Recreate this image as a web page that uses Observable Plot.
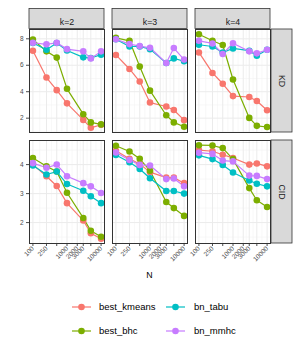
<!DOCTYPE html>
<html><head><meta charset="utf-8">
<script src="https://cdn.jsdelivr.net/npm/d3@7"></script>
<script src="https://cdn.jsdelivr.net/npm/@observablehq/plot@0.6"></script>
<style>
body{margin:0;background:#fff;font-family:"Liberation Sans",Arial,sans-serif;}
#chart{width:300px;height:350px;position:relative;overflow:hidden;background:#fff}
#chart svg{display:block}
</style></head><body><div id="chart"></div>
<script>
// ---- data ----
const N = [100, 250, 500, 1000, 3000, 5000, 10000];
const nTicks = [100, 250, 500, 1000, 2000, 3000, 5000, 10000];
const methods = ["best_kmeans", "best_bhc", "bn_tabu", "bn_mmhc"];
const colors = ["#F8766D", "#7CAE00", "#00BFC4", "#C77CFF"];
const ks = [2, 3, 4];
const metrics = ["KD", "CID"];
const kdTicks = [2, 4, 6, 8];
const cidTicks = [2, 3, 4];

// rows: best_kmeans, best_bhc, bn_tabu, bn_mmhc
const KD_k2 = [
  [7.1, 5.07, 4.12, 3.12, 1.87, 1.27, 1.5],
  [7.95, 7.05, 6.58, 4.22, 2.3, 1.68, 1.53],
  [7.68, 7.17, 7.68, 7.12, 6.6, 6.55, 6.8],
  [7.7, 7.58, 7.7, 7.22, 7.05, 6.52, 7.05]
];
const KD_k3 = [
  [6.78, 5.72, 4.77, 3.18, 2.88, 2.62, 1.85],
  [8.07, 7.85, 5.9, 4.08, 2.22, 1.68, 1.35],
  [7.97, 7.42, 7.42, 7.22, 6.17, 6.52, 6.3],
  [7.97, 7.6, 7.45, 7.32, 6.17, 7.3, 6.43]
];
const KD_k4 = [
  [6.97, 5.42, 4.6, 3.67, 3.6, 3.3, 2.6],
  [8.35, 7.85, 7.53, 4.92, 2.02, 1.42, 1.33],
  [7.55, 7.42, 6.97, 7.27, 7.1, 6.72, 7.17],
  [7.85, 7.65, 6.85, 7.67, 7.05, 6.9, 7.17]
];
const CID_k2 = [
  [4.0, 3.6, 3.26, 2.67, 2.07, 1.63, 1.44],
  [4.23, 3.94, 3.76, 3.03, 2.16, 1.72, 1.51],
  [3.97, 3.66, 3.76, 3.33, 3.1, 2.91, 2.67],
  [4.05, 3.89, 4.0, 3.6, 3.36, 3.25, 3.02]
];
const CID_k3 = [
  [4.48, 4.2, 4.02, 3.74, 3.55, 3.55, 3.36],
  [4.65, 4.45, 4.2, 3.79, 2.71, 2.5, 2.23],
  [4.33, 4.08, 3.85, 3.53, 3.09, 3.09, 3.0],
  [4.42, 4.16, 3.99, 3.97, 3.5, 3.52, 3.25]
];
const CID_k4 = [
  [4.5, 4.46, 4.34, 4.23, 4.0, 4.04, 3.94],
  [4.67, 4.66, 4.57, 4.19, 3.19, 2.77, 2.54],
  [4.32, 4.19, 3.99, 3.73, 3.45, 3.34, 3.25],
  [4.41, 4.37, 4.14, 4.11, 3.62, 3.61, 3.5]
];

// ---- build long tables ----
function longRows(metric, panels) {
  const out = [];
  methods.forEach((m, mi) => {
    ks.forEach((k, ki) => {
      panels[ki][mi].forEach((v, i) => out.push({metric, k, method: m, N: N[i], value: v}));
    });
  });
  return out;
}
const kdData = longRows("KD", [KD_k2, KD_k3, KD_k4]);
const cidData = longRows("CID", [CID_k2, CID_k3, CID_k4]);

function expand([a, b], f = 0.05) { const d = (b - a) * f; return [a - d, b + d]; }
const lx = expand([Math.log10(d3.min(N)), Math.log10(d3.max(N))]);
const xDomain = [10 ** lx[0], 10 ** lx[1]];
const xMinor = d3.pairs(nTicks).map(([a, b]) => Math.sqrt(a * b));
function minorBreaks(ticks, dom) {
  const bd = ticks[1] - ticks[0];
  const b = [ticks[0] - bd, ...ticks, ticks[ticks.length - 1] + bd];
  return d3.pairs(b).map(([a, c]) => (a + c) / 2).filter(v => v >= dom[0] && v <= dom[1]);
}

const FONT = "'Liberation Sans', Arial, sans-serif";
const chart = document.getElementById("chart");

function panelRow({metric, data, yTicks, height, top, bottom, showX, showStrips}) {
  const yDomain = expand(d3.extent(data, d => d.value));
  const yMinor = minorBreaks(yTicks, yDomain);
  const marks = [
    Plot.ruleX(xMinor, {stroke: "#f3f3f3", strokeWidth: 0.6}),
    Plot.ruleY(yMinor, {stroke: "#f3f3f3", strokeWidth: 0.6}),
    Plot.ruleX(nTicks, {stroke: "#ebebeb", strokeWidth: 1}),
    Plot.ruleY(yTicks, {stroke: "#ebebeb", strokeWidth: 1}),
    Plot.line(data, {fx: "k", x: "N", y: "value", stroke: "method", z: "method", strokeWidth: 1.2}),
    Plot.dot(data, {fx: "k", x: "N", y: "value", fill: "method", r: 3.3}),
    Plot.frame({stroke: "#333", strokeWidth: 1}),
    Plot.text([metric], {fx: () => 4, text: d => d, frameAnchor: "right", dx: 11.5, rotate: 90,
      textAnchor: "middle", fontSize: 8.8, fill: "#1a1a1a"})
  ];
  if (showStrips) {
    marks.push(Plot.text(ks, {fx: d => d, text: d => `k=${d}`, frameAnchor: "top", dy: -10.5,
      textAnchor: "middle", fontSize: 8.8, fill: "#1a1a1a"}));
  }
  const plot = Plot.plot({
    width: 300, height,
    marginLeft: 29, marginRight: 30, marginTop: top, marginBottom: bottom,
    style: {fontFamily: FONT, fontSize: "6.5px", color: "#4d4d4d", background: "transparent", overflow: "visible"},
    fx: {domain: ks, paddingInner: 8 / 83, paddingOuter: 0, axis: null, label: null},
    x: {type: "log", domain: xDomain, ticks: nTicks, tickFormat: d => String(d), tickRotate: -45,
      tickSize: 3, tickPadding: 1, label: null, axis: showX ? "bottom" : null},
    y: {domain: yDomain, ticks: yTicks, tickFormat: d => String(d), tickSize: 3, tickPadding: 3, label: null},
    color: {domain: methods, range: colors},
    marks
  });
  // strip backgrounds (behind everything)
  const s = plot.scale("fx");
  const band = d3.scaleBand().domain(s.domain).range(s.range)
    .paddingInner(s.paddingInner ?? 8 / 83).paddingOuter(s.paddingOuter ?? 0).align(s.align ?? 0.5);
  const svg = d3.select(plot);
  const g = svg.insert("g", ":first-child");
  if (showStrips) {
    ks.forEach(k => g.append("rect").attr("x", band(k)).attr("y", top - 20.5)
      .attr("width", band.bandwidth()).attr("height", 20)
      .attr("fill", "#d9d9d9").attr("stroke", "#333").attr("stroke-width", 0.8));
  }
  const right = band(4) + band.bandwidth();
  g.append("rect").attr("x", right + 1).attr("y", top)
    .attr("width", 21).attr("height", height - top - bottom)
    .attr("fill", "#d9d9d9").attr("stroke", "#333").attr("stroke-width", 0.8);
  chart.appendChild(plot);
}

panelRow({metric: "KD", data: kdData, yTicks: kdTicks, height: 136, top: 29, bottom: 4, showX: false, showStrips: true});
panelRow({metric: "CID", data: cidData, yTicks: cidTicks, height: 130, top: 4, bottom: 23, showX: true, showStrips: false});

// x title + legend
const ov = d3.select(chart).append("svg").attr("width", 300).attr("height", 84)
  .style("position", "absolute").style("left", "0px").style("top", "266px")
  .style("font-family", FONT);
ov.append("text").attr("x", 149.5).attr("y", 12).attr("text-anchor", "middle")
  .attr("font-size", 8.8).attr("fill", "#000").text("N");
const legendCols = [[72, 99], [166, 194]];
const legendRows = [41, 65];
methods.forEach((m, i) => {
  const col = Math.floor(i / 2), row = i % 2;
  const [kx, tx] = legendCols[col];
  const y = legendRows[row];
  const gi = ov.append("g");
  gi.append("line").attr("x1", kx).attr("x2", kx + 19).attr("y1", y).attr("y2", y)
    .attr("stroke", colors[i]).attr("stroke-width", 1.2);
  gi.append("circle").attr("cx", kx + 9.5).attr("cy", y).attr("r", 3.3).attr("fill", colors[i]);
  gi.append("text").attr("x", tx).attr("y", y).attr("dy", "0.35em")
    .attr("font-size", 9.5).attr("fill", "#000").text(m);
});
</script></body></html>
